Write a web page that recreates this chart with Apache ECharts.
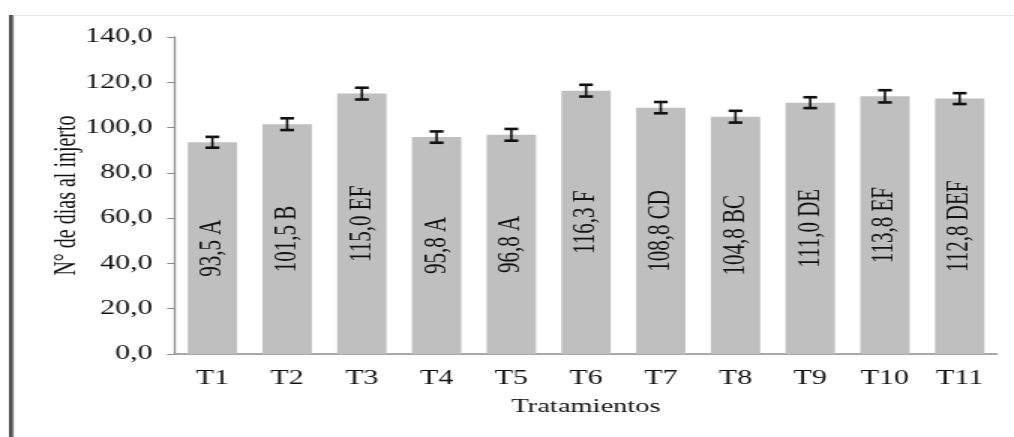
<!DOCTYPE html>
<html>
<head>
<meta charset="utf-8">
<script src="https://cdn.jsdelivr.net/npm/echarts@6/dist/echarts.min.js"></script>
<style>
  html, body { margin: 0; padding: 0; background: #fff; overflow: hidden; }
  /* the original picture is stretched sideways, so the chart is drawn narrow and widened */
  #chart { width: 676px; height: 437px; transform: scaleX(1.5); transform-origin: 0 0; }
</style>
</head>
<body>
<div id="chart"></div>
<script>
// datos del grafico
var tratamientos = ['T1', 'T2', 'T3', 'T4', 'T5', 'T6', 'T7', 'T8', 'T9', 'T10', 'T11'];
var diasInjerto = [93.5, 101.5, 115.0, 95.8, 96.8, 116.3, 108.8, 104.8, 111.0, 113.8, 112.8];
var letras = ['A', 'B', 'EF', 'A', 'A', 'F', 'CD', 'BC', 'DE', 'EF', 'DEF'];
var errores = [2.4, 2.6, 2.6, 2.5, 2.6, 2.6, 2.5, 2.6, 2.4, 2.7, 2.4];

var serif = 'Liberation Serif';

function coma(v) {
  return v.toFixed(1).replace('.', ',');
}

var chart = echarts.init(document.getElementById('chart'));

var option = {
  animation: false,
  backgroundColor: '#fff',
  graphic: [
    { type: 'rect', left: 6, top: 15, shape: { width: 3.4, height: 422 },
      style: { fill: new echarts.graphic.LinearGradient(0, 0, 1, 0, [
        { offset: 0, color: '#3a3a3a' }, { offset: 0.7, color: '#6a6a6a' }, { offset: 1, color: '#c8c8c8' }]) } },
    { type: 'rect', left: 9.4, top: 15, shape: { width: 670, height: 1 },
      style: { fill: '#e4e4e4' } }
  ],
  grid: { left: 116.7, right: 11.3, top: 37, bottom: 83 },
  xAxis: {
    type: 'category',
    data: tratamientos,
    name: 'Tratamientos',
    nameLocation: 'middle',
    nameGap: 44,
    nameMoveOverlap: false,
    nameTextStyle: { fontFamily: serif, fontSize: 19, color: '#111' },
    axisLine: { lineStyle: { color: '#8c8c8c', width: 1.5 } },
    axisTick: { show: false },
    axisLabel: { fontFamily: serif, fontSize: 20, color: '#111', margin: 15 }
  },
  yAxis: {
    type: 'value',
    min: 0,
    max: 140,
    interval: 20,
    name: 'N° de dias al injerto',
    nameLocation: 'middle',
    nameGap: 62,
    nameMoveOverlap: false,
    nameRotate: 90,
    nameTextStyle: { fontFamily: serif, fontSize: 20, color: '#111' },
    axisLine: { show: true, lineStyle: { color: '#8c8c8c', width: 1.3 } },
    axisTick: { show: true, length: 5.3, lineStyle: { color: '#8c8c8c' } },
    splitLine: { show: false },
    axisLabel: {
      fontFamily: serif, fontSize: 20, color: '#111', margin: 15,
      formatter: function (v) { return coma(v); }
    }
  },
  series: [
    {
      type: 'bar',
      data: diasInjerto,
      barCategoryGap: '34%',
      itemStyle: { color: '#bfbfbf' },
      label: {
        show: true,
        position: 'inside',
        rotate: 90,
        fontFamily: serif,
        fontSize: 21,
        color: '#111',
        formatter: function (p) { return coma(p.value) + ' ' + letras[p.dataIndex]; }
      }
    },
    {
      type: 'custom',
      data: diasInjerto.map(function (v, i) { return [i, v - errores[i], v + errores[i]]; }),
      encode: { x: 0, y: [1, 2] },
      z: 5,
      renderItem: function (params, api) {
        var lo = api.coord([api.value(0), api.value(1)]);
        var hi = api.coord([api.value(0), api.value(2)]);
        var cap = 4.6;
        var st = { stroke: '#111', lineWidth: 2.6 };
        return {
          type: 'group',
          children: [
            { type: 'line', shape: { x1: hi[0], y1: hi[1], x2: lo[0], y2: lo[1] }, style: { stroke: '#111', lineWidth: 1.6 } },
            { type: 'line', shape: { x1: hi[0] - cap, y1: hi[1], x2: hi[0] + cap, y2: hi[1] }, style: st },
            { type: 'line', shape: { x1: lo[0] - cap, y1: lo[1], x2: lo[0] + cap, y2: lo[1] }, style: st }
          ]
        };
      }
    }
  ]
};

chart.setOption(option);
</script>
</body>
</html>
